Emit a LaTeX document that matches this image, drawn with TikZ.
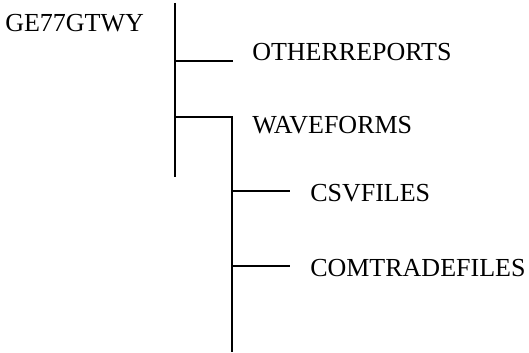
\documentclass[tikz,border=0pt]{standalone}
\usepackage{fontspec}
\setmainfont{Liberation Serif}
\usepackage{tikz}
\usetikzlibrary{positioning}

\tikzset{
  dirname/.style={anchor=base west, inner sep=0pt, font=\fontsize{19.5}{23}\selectfont},
  treeline/.style={line width=1.5pt}
}

\begin{document}
\begin{tikzpicture}[x=0.75pt, y=-0.75pt]
\useasboundingbox (0,0) rectangle (529,353);

% Folder names
\node[dirname] (root) at (5,32) {GE77GTWY};
\node[dirname] (otherreports) at (252,61) {OTHERREPORTS};
\node[dirname] (waveforms) at (252,134) {WAVEFORMS};
\node[dirname] (csvfiles) at (310,201) {CSVFILES};
\node[dirname] (comtradefiles) at (310,276) {COMTRADEFILES};

% Points of the tree
\coordinate (trunktop) at (175,3);
\coordinate (trunkbot) at (175,177);
\coordinate (otherjoin) at (175,61);
\coordinate (otherend) at (233,61);
\coordinate (wavejoin) at (175,117.5);
\coordinate (wavecorner) at (232,117.5);
\coordinate (wavebot) at (232,352);
\coordinate (csvjoin) at (232,191);
\coordinate (csvend) at (290,191);
\coordinate (comjoin) at (232,266);
\coordinate (comend) at (290,266);

% Tree lines
\draw[treeline] (trunktop) -- (trunkbot);
\draw[treeline] (otherjoin) -- (otherend);
\draw[treeline] (wavejoin) -- (wavecorner) -- (wavebot);
\draw[treeline] (csvjoin) -- (csvend);
\draw[treeline] (comjoin) -- (comend);

\end{tikzpicture}
\end{document}
